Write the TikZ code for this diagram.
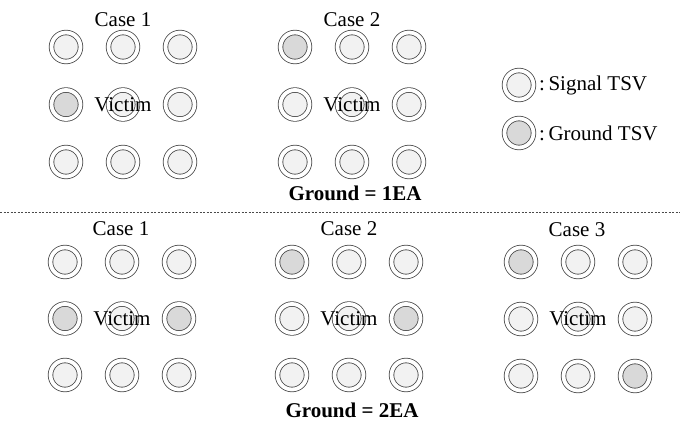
\documentclass[tikz,border=0pt]{standalone}
\usepackage{fontspec}
\setmainfont{Liberation Serif}
\definecolor{sigc}{HTML}{F2F2F2}
\definecolor{gndc}{HTML}{D9D9D9}
\definecolor{edgec}{HTML}{4A4A4A}
\newcommand\tsvgrid[6]{%
  \foreach [count=\i from 0] \f in {#6} {
    \pgfmathtruncatemacro\r{div(\i,3)}
    \pgfmathtruncatemacro\c{mod(\i,3)}
    \node[tsv=\f] (#1-\r\c) at ({#2+\c*#4},{#3+\r*#5}) {};
  }}
\begin{document}
\begin{tikzpicture}[x=1pt,y=-1pt,font=\fontsize{21}{25}\selectfont,
  tsv/.style={circle, draw=edgec, double=white, double distance=3.8pt,
    line width=0.8pt, minimum size=29pt, inner sep=0pt, fill=#1},
  lbl/.style={inner sep=0pt},
  ttl/.style={inner sep=0pt, font=\fontsize{21}{25}\selectfont\bfseries}]
\useasboundingbox (0,0) rectangle (680,421);
% top block
\tsvgrid{ta}{66}{47}{57}{57.5}{sigc,sigc,sigc,gndc,sigc,sigc,sigc,sigc,sigc}
\tsvgrid{tb}{295}{47}{57}{57.5}{gndc,sigc,sigc,sigc,sigc,sigc,sigc,sigc,sigc}
\node[lbl] (tal) at (123,20) {Case 1};
\node[lbl] (tbl) at (352,20) {Case 2};
\node[lbl] (tav) at (ta-11) {Victim};
\node[lbl] (tbv) at (tb-11) {Victim};
\node[ttl] (g1) at (355,193) {Ground = 1EA};
% legend
\node[tsv=sigc] (ls) at (519,85) {};
\node[tsv=gndc] (lg) at (519,133) {};
\node[lbl,anchor=west] (lst) at (539,85) {:\,Signal TSV};
\node[lbl,anchor=west] (lgt) at (539,133) {:\,Ground TSV};
% divider
\coordinate (dl) at (0,212);
\coordinate (dr) at (680,212);
\draw[edgec, line width=0.5pt, dash pattern=on 2pt off 1.5pt] (dl) -- (dr);
% bottom block
\tsvgrid{ba}{65}{262}{57}{56.5}{sigc,sigc,sigc,gndc,sigc,gndc,sigc,sigc,sigc}
\tsvgrid{bb}{292}{262}{57}{56.5}{gndc,sigc,sigc,sigc,sigc,gndc,sigc,sigc,sigc}
\tsvgrid{bc}{521}{262}{57}{57}{gndc,sigc,sigc,sigc,sigc,sigc,sigc,sigc,gndc}
\node[lbl] (bal) at (121,229) {Case 1};
\node[lbl] (bbl) at (349,229) {Case 2};
\node[lbl] (bcl) at (577,230) {Case 3};
\node[lbl] (bav) at (ba-11) {Victim};
\node[lbl] (bbv) at (bb-11) {Victim};
\node[lbl] (bcv) at (bc-11) {Victim};
\node[ttl] (g2) at (352,410) {Ground = 2EA};
\end{tikzpicture}
\end{document}
